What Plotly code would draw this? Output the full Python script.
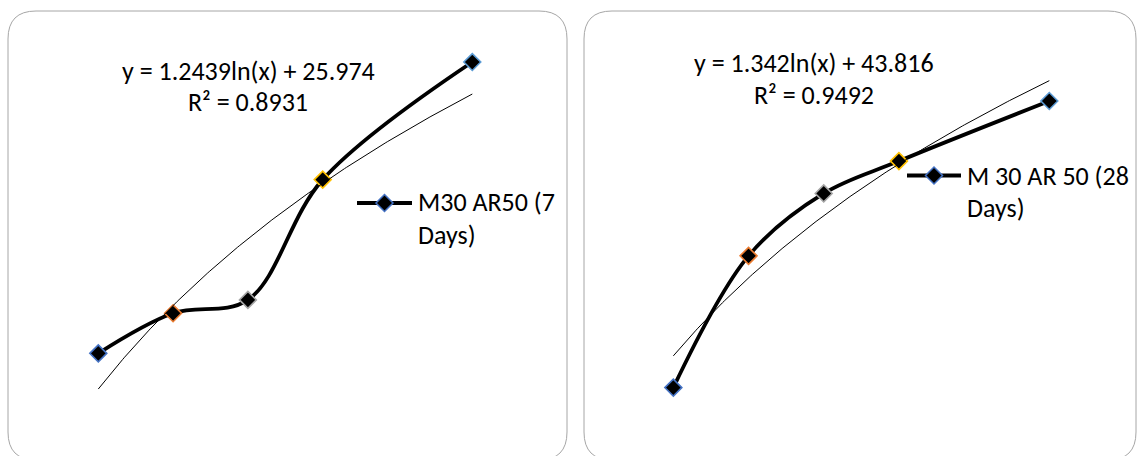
import numpy as np
import plotly.graph_objects as go

W, H = 1137, 456

# Data: five mixes, compressive strength at 7 and 28 days
x_vals = [35, 45, 55, 65, 85]
strength_7d = [30.53, 30.68, 30.73, 31.18, 31.62]
strength_28d = [48.45, 49.02, 49.29, 49.43, 49.69]
point_outline = ["#4472C4", "#ED7D31", "#A5A5A5", "#FFC000", "#5B9BD5"]

# Logarithmic trendlines: y = a*ln(x) + b, with R^2
fit_7d = (1.2439, 25.974, 0.8931)
fit_28d = (1.342, 43.816, 0.9492)

series_names = [("M30 AR50 (7", "Days)"), ("M 30 AR 50 (28", "Days)")]

FONT = "Carlito, Calibri, Lato, sans-serif"
FSIZE = 26

fig = go.Figure()

panels = [
    (strength_7d, fit_7d, "x", "y"),
    (strength_28d, fit_28d, "x2", "y2"),
]

for ys, (a, b, r2), xa, ya in panels:
    # smoothed data line
    fig.add_trace(go.Scatter(
        x=x_vals, y=ys, xaxis=xa, yaxis=ya, mode="lines+markers",
        line=dict(color="black", width=3.8, shape="spline", smoothing=1),
        marker=dict(symbol="diamond", size=13, color="black",
                    line=dict(color=point_outline, width=1.6)),
        cliponaxis=False, showlegend=False, hoverinfo="skip",
    ))
    # trendline from the fitted equation
    xt = np.linspace(min(x_vals), max(x_vals), 200)
    fig.add_trace(go.Scatter(
        x=xt, y=a * np.log(xt) + b, xaxis=xa, yaxis=ya, mode="lines",
        line=dict(color="black", width=1), showlegend=False, hoverinfo="skip",
    ))


def px(x):
    return x / W


def py(y):
    return 1 - y / H


def rounded_rect(x0, y0, x1, y1, r):
    rx, ry = r / W, r / H
    X0, X1, Y0, Y1 = px(x0), px(x1), py(y0), py(y1)
    return (f"M {X0 + rx},{Y0} L {X1 - rx},{Y0} Q {X1},{Y0} {X1},{Y0 - ry} "
            f"L {X1},{Y1 + ry} Q {X1},{Y1} {X1 - rx},{Y1} "
            f"L {X0 + rx},{Y1} Q {X0},{Y1} {X0},{Y1 + ry} "
            f"L {X0},{Y0 - ry} Q {X0},{Y0} {X0 + rx},{Y0} Z")


def diamond(cx, cy, h):
    dx, dy = h / W, h / H
    X, Y = px(cx), py(cy)
    return f"M {X - dx},{Y} L {X},{Y + dy} L {X + dx},{Y} L {X},{Y - dy} Z"


shapes = [
    dict(type="path", xref="paper", yref="paper",
         path=rounded_rect(8, 11, 567, 460, 28),
         line=dict(color="#a6a6a6", width=1), layer="below"),
    dict(type="path", xref="paper", yref="paper",
         path=rounded_rect(584, 11, 1136, 460, 28),
         line=dict(color="#a6a6a6", width=1), layer="below"),
]

# legend keys
for (lx0, lx1, ly) in [(357, 412, 203), (907, 961, 175.5)]:
    shapes.append(dict(type="line", xref="paper", yref="paper",
                       x0=px(lx0), x1=px(lx1), y0=py(ly), y1=py(ly),
                       line=dict(color="black", width=4)))
    shapes.append(dict(type="path", xref="paper", yref="paper",
                       path=diamond((lx0 + lx1) / 2, ly, 8.5),
                       fillcolor="black", line=dict(color="#4472C4", width=1.5)))

annotations = []


def add_text(text, x, y, anchor):
    annotations.append(dict(
        x=px(x), y=py(y), xref="paper", yref="paper", text=text,
        showarrow=False, xanchor=anchor, yanchor="middle",
        font=dict(family=FONT, size=FSIZE, color="black"),
    ))


eq_pos = [(248, 71, 102.5), (814, 63, 95.5)]
for (a, b, r2), (ex, ey1, ey2) in zip([fit_7d, fit_28d], eq_pos):
    add_text(f"y = {a}ln(x) + {b}", ex, ey1, "center")
    add_text(f"R² = {r2}", ex, ey2, "center")

leg_pos = [(416, 202, 235), (965, 175.5, 208)]
for (l1, l2), (lx, ly1, ly2) in zip(series_names, leg_pos):
    add_text(l1, lx, ly1, "left")
    add_text(l2, lx, ly2, "left")

hidden = dict(visible=False, showgrid=False, zeroline=False)

fig.update_layout(
    width=W, height=H, margin=dict(l=0, r=0, t=0, b=0),
    paper_bgcolor="white", plot_bgcolor="rgba(0,0,0,0)",
    xaxis=dict(domain=[0, 0.5], range=[21.86, 97.86], **hidden),
    yaxis=dict(domain=[0, 1], range=[30.146, 31.852], **hidden),
    xaxis2=dict(domain=[0.5, 1], range=[21.06, 96.66], anchor="y2", **hidden),
    yaxis2=dict(domain=[0, 1], range=[48.154, 50.127], anchor="x2", **hidden),
    shapes=shapes, annotations=annotations, showlegend=False,
)

fig.write_html("out.html")
